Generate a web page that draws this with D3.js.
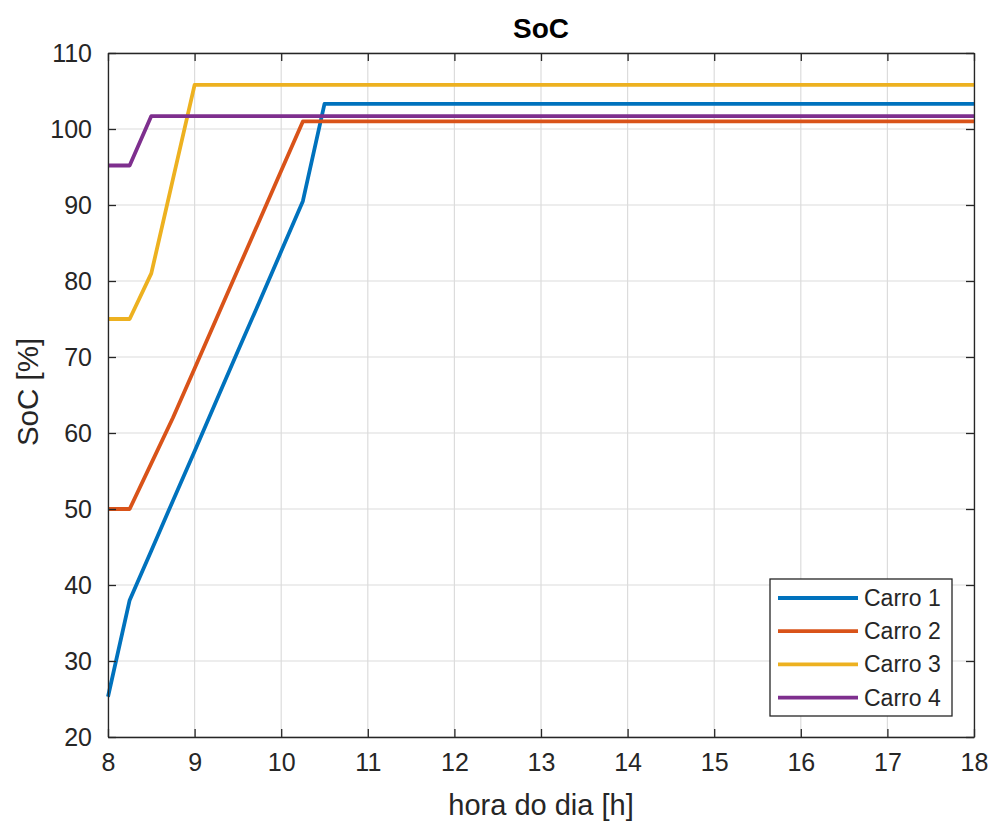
<!DOCTYPE html>
<html>
<head>
<meta charset="utf-8">
<script src="https://cdn.jsdelivr.net/npm/d3@7"></script>
<style>
  html, body { margin: 0; padding: 0; background: #fff; }
  svg { display: block; font-family: "Liberation Sans", Arial, Helvetica, sans-serif; }
</style>
</head>
<body>
<svg id="chart" width="995" height="825"></svg>
<script>
// Breakpoint hours shared by all four vehicles (state of charge is piecewise linear)
const hours = [8, 8.25, 8.5, 8.75, 9, 9.25, 9.5, 9.75, 10, 10.25, 10.5, 18];

const carro1 = [25.3, 38, 44.5, 51.1, 57.6, 64.2, 70.8, 77.3, 83.9, 90.5, 103.3, 103.3];
const carro2 = [50, 50, 56, 62, 68.5, 75, 81.5, 88, 94.5, 101, 101, 101];
const carro3 = [75, 75, 81, 93.4, 105.8, 105.8, 105.8, 105.8, 105.8, 105.8, 105.8, 105.8];
const carro4 = [95.2, 95.2, 101.7, 101.7, 101.7, 101.7, 101.7, 101.7, 101.7, 101.7, 101.7, 101.7];

const seriesNames = ["Carro 1", "Carro 2", "Carro 3", "Carro 4"];
const seriesColors = ["#0072BD", "#D95319", "#EDB120", "#7E2F8E"];

const xTicks = [8, 9, 10, 11, 12, 13, 14, 15, 16, 17, 18];
const yTicks = [20, 30, 40, 50, 60, 70, 80, 90, 100, 110];

const series = [carro1, carro2, carro3, carro4].map((vals, i) => ({
  name: seriesNames[i],
  color: seriesColors[i],
  points: hours.map((h, j) => ({ h, v: vals[j] }))
}));

const svg = d3.select("#chart");
const plot = { left: 108, right: 974, top: 53, bottom: 737 };
const axisColor = "#262626";
const textColor = "#262626";

const x = d3.scaleLinear().domain([8, 18]).range([plot.left, plot.right]);
const y = d3.scaleLinear().domain([20, 110]).range([plot.bottom, plot.top]);

// grid
const grid = svg.append("g");
grid.selectAll("line.gx").data(xTicks).join("line")
  .attr("x1", d => x(d)).attr("x2", d => x(d))
  .attr("y1", plot.top).attr("y2", plot.bottom)
  .attr("stroke", "#dcdcdc").attr("stroke-width", 1.2);
grid.selectAll("line.gy").data(yTicks).join("line")
  .attr("y1", d => y(d)).attr("y2", d => y(d))
  .attr("x1", plot.left).attr("x2", plot.right)
  .attr("stroke", "#dcdcdc").attr("stroke-width", 1.2);

// lines
const line = d3.line().x(d => x(d.h)).y(d => y(d.v));
const lines = svg.append("g");
series.forEach(s => {
  lines.append("path")
    .datum(s.points)
    .attr("d", line)
    .attr("fill", "none")
    .attr("stroke", s.color)
    .attr("stroke-width", 3.8)
    .attr("stroke-linejoin", "round");
});

// axes (inward ticks on all four sides, MATLAB style box)
const tickLen = 8;
const xBottom = d3.axisBottom(x).tickValues(xTicks).tickSizeInner(-tickLen).tickSizeOuter(0).tickPadding(16).tickFormat(d3.format("d"));
const xTop = d3.axisTop(x).tickValues(xTicks).tickSizeInner(-tickLen).tickSizeOuter(0).tickFormat("");
const yLeft = d3.axisLeft(y).tickValues(yTicks).tickSizeInner(-tickLen).tickSizeOuter(0).tickPadding(16).tickFormat(d3.format("d"));
const yRight = d3.axisRight(y).tickValues(yTicks).tickSizeInner(-tickLen).tickSizeOuter(0).tickFormat("");

function styleAxis(g) {
  g.select(".domain").attr("stroke", axisColor).attr("stroke-width", 1.3);
  g.selectAll(".tick line").attr("stroke", axisColor).attr("stroke-width", 1.3);
  g.selectAll(".tick text").attr("fill", textColor).attr("font-size", 25)
    .attr("font-family", "Liberation Sans, Arial, sans-serif");
}

svg.append("g").attr("transform", `translate(0,${plot.bottom})`).call(xBottom).call(styleAxis);
svg.append("g").attr("transform", `translate(0,${plot.top})`).call(xTop).call(styleAxis);
svg.append("g").attr("transform", `translate(${plot.left},0)`).call(yLeft).call(styleAxis);
svg.append("g").attr("transform", `translate(${plot.right},0)`).call(yRight).call(styleAxis);

// title and axis labels
svg.append("text")
  .attr("x", (plot.left + plot.right) / 2).attr("y", 38)
  .attr("text-anchor", "middle").attr("font-weight", "bold")
  .attr("font-size", 28).attr("fill", "#000")
  .text("SoC");

svg.append("text")
  .attr("x", (plot.left + plot.right) / 2).attr("y", 815)
  .attr("text-anchor", "middle").attr("font-size", 29).attr("fill", textColor)
  .text("hora do dia [h]");

svg.append("text")
  .attr("transform", `translate(38,${392}) rotate(-90)`)
  .attr("text-anchor", "middle").attr("font-size", 29.5).attr("fill", textColor)
  .text("SoC [%]");

// legend
const legend = { x: 770, y: 579, w: 182, h: 137 };
const lg = svg.append("g");
lg.append("rect")
  .attr("x", legend.x).attr("y", legend.y).attr("width", legend.w).attr("height", legend.h)
  .attr("fill", "#fff").attr("stroke", axisColor).attr("stroke-width", 1.3);
series.forEach((s, i) => {
  const cy = legend.y + 19 + i * 33.2;
  lg.append("line")
    .attr("x1", legend.x + 8).attr("x2", legend.x + 88)
    .attr("y1", cy).attr("y2", cy)
    .attr("stroke", s.color).attr("stroke-width", 3.8);
  lg.append("text")
    .attr("x", legend.x + 94).attr("y", cy).attr("dy", "0.35em")
    .attr("font-size", 23).attr("fill", textColor)
    .text(s.name);
});
</script>
</body>
</html>
